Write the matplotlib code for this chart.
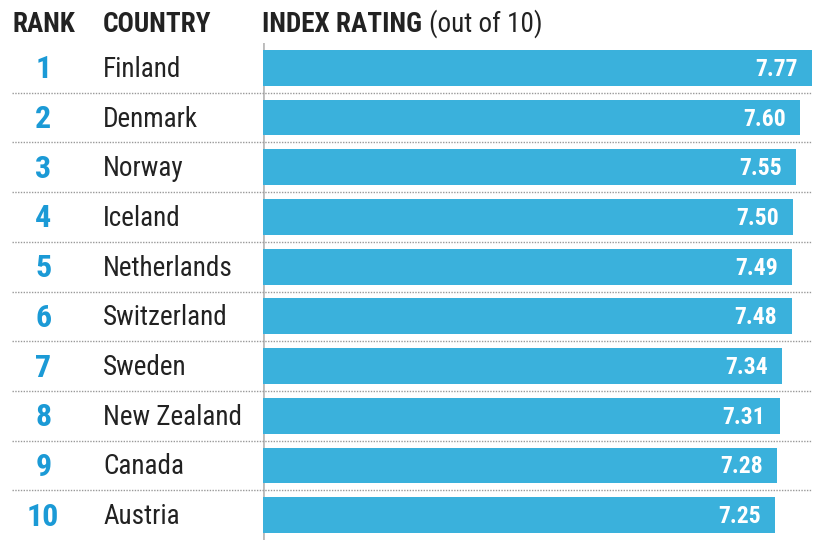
import matplotlib
import matplotlib.pyplot as plt
from matplotlib import font_manager

matplotlib.use('Agg')

ranks = [1, 2, 3, 4, 5, 6, 7, 8, 9, 10]
countries = ["Finland", "Denmark", "Norway", "Iceland", "Netherlands",
             "Switzerland", "Sweden", "New Zealand", "Canada", "Austria"]
ratings = [7.77, 7.60, 7.55, 7.50, 7.49, 7.48, 7.34, 7.31, 7.28, 7.25]

names = {f.name for f in font_manager.fontManager.ttflist}
font = 'DejaVu Sans'
for cand in ['Roboto Condensed', 'Liberation Sans Narrow', 'Open Sans Condensed',
             'Noto Sans Condensed', 'Roboto']:
    if cand in names:
        font = cand
        break
plt.rcParams['font.family'] = [font, 'DejaVu Sans']

bar_col = '#3ab1dc'
rank_col = '#1b9ad6'
text_col = '#222222'

W, H = 817, 541
fig = plt.figure(figsize=(W / 100, H / 100), dpi=100)
left_px = 263
ax = fig.add_axes([left_px / W, 1 / H, (W - left_px) / W, 497 / H])
px_per_unit = 70.66
ax.set_xlim(0, (W - left_px) / px_per_unit)
ax.set_ylim(9.5, -0.5)

ax.barh(range(len(ratings)), ratings, height=0.72, color=bar_col, zorder=2)
for i, v in enumerate(ratings):
    ax.text(v - 0.2, i + 0.03, f"{v:.2f}", color='white', fontsize=17,
            fontweight='bold', ha='right', va='center', zorder=3)
    ax.text(-3.11, i + 0.03, str(ranks[i]), color=rank_col, fontsize=23,
               fontweight='bold', ha='center', va='center', clip_on=False)
    ax.text(-2.26, i + 0.03, countries[i], color=text_col, fontsize=19.5,
            ha='left', va='center', clip_on=False)

# dotted separators between rows
x0 = (12 - left_px) / px_per_unit
for i in range(len(ratings) - 1):
    ax.plot([x0, ratings[0]], [i + 0.5, i + 0.5], color='#999999', lw=1.0,
            ls=(0, (1, 1)), clip_on=False, zorder=4)

ax.axvline(0, color='#bbbbbb', lw=2, zorder=1)
ax.set_axis_off()

hy = 1 - 24 / H
fig.text(13 / W, hy, "RANK", fontsize=19.5, fontweight='bold',
         color=text_col, ha='left', va='center')
fig.text(103 / W, hy, "COUNTRY", fontsize=19.5, fontweight='bold',
         color=text_col, ha='left', va='center')
t = fig.text(262 / W, hy, "INDEX RATING", fontsize=19.5, fontweight='bold',
             color=text_col, ha='left', va='center')
fig.canvas.draw()
bb = t.get_window_extent()
fig.text(bb.x1 / W + 7 / W, hy, "(out of 10)", fontsize=19.5,
         color=text_col, ha='left', va='center')

fig.savefig('out.png', dpi=100)
